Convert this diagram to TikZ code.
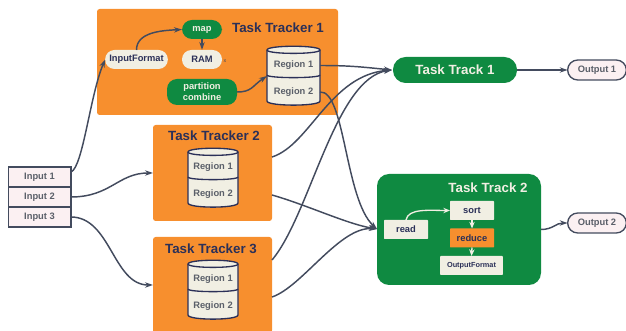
\documentclass[tikz,border=0pt]{standalone}
\usepackage{fontspec}
\setmainfont{Liberation Sans}
\usepackage{tikz}
\usetikzlibrary{arrows.meta,positioning}
\definecolor{boxorange}{HTML}{F78F2E}
\definecolor{boxgreen}{HTML}{0F8A41}
\definecolor{boxcream}{HTML}{F1EFE3}
\definecolor{boxpink}{HTML}{FBF0F2}
\definecolor{linegray}{HTML}{434B5E}
\definecolor{textnavy}{HTML}{2B3058}
\definecolor{textgray}{HTML}{5A5F69}
\tikzset{
  base/.style={font=\bfseries\fontsize{7}{8.5}\selectfont,align=center,inner sep=0pt,outer sep=0pt},
  tracker/.style={fill=boxorange,rounded corners=2pt,inner sep=0pt,outer sep=0pt},
  title/.style={font=\bfseries\fontsize{10}{12}\selectfont,text=textnavy,inner sep=0pt},
  greenpill/.style={base,fill=boxgreen,text=boxcream,rounded corners=7.5pt},
  creampill/.style={base,fill=boxcream,text=textnavy,rounded corners=7pt},
  creambox/.style={base,fill=boxcream,text=textnavy,rounded corners=0.5pt},
  inputbox/.style={base,draw=linegray,line width=1pt,fill=boxpink,text=textgray,minimum width=47pt,minimum height=15pt},
  outputbox/.style={base,draw=linegray,line width=1pt,fill=boxpink,text=textgray,rounded corners=7.5pt,minimum width=44pt,minimum height=15pt},
  drum/.style={draw=textnavy,line width=1pt,fill=boxcream},
  region/.style={base,text=textgray,minimum height=10pt},
  link/.style={draw=linegray,line width=1.1pt,-{Stealth[length=6pt,width=4pt]}},
  whitelink/.style={draw=boxcream,line width=1pt,-{Stealth[length=5pt,width=4pt]}},
}
% one drum with two regions: name, centre x, top y, half width
\newcommand{\regiondrum}[4]{
  \begin{scope}[shift={(#2,#3)}]
    \draw[drum] (-#4,4) .. controls +(0,-5) and +(0,-5) .. (#4,4) -- (#4,55)
      .. controls +(0,5.5) and +(0,5.5) .. (-#4,55) -- cycle;
    \draw[drum,fill=none] (-#4,4) .. controls +(0,4.5) and +(0,4.5) .. (#4,4);
    \draw[drum,fill=none] (-#4,29) .. controls +(0,3.5) and +(0,3.5) .. (#4,29);
    \node[base,minimum width=#4*1.5pt,minimum height=44pt] (#1) at (0,30) {};
    \node[region,minimum width=#4*1.5pt] (#1a) at (0,19.5) {Region 1};
    \node[region,minimum width=#4*1.5pt] (#1b) at (0,46) {Region 2};
  \end{scope}
}
\begin{document}
\begin{tikzpicture}[x=0.75pt,y=-0.75pt]
  \useasboundingbox (0,0) rectangle (626,331);

  % inputs
  \node[inputbox] (input1) at (39.5,177) {Input 1};
  \node[inputbox,below=0pt of input1] (input2) {Input 2};
  \node[inputbox,below=0pt of input2] (input3) {Input 3};

  % task tracker 1
  \node[tracker,minimum width=180.75pt,minimum height=79.5pt] (tracker1) at (217.5,62) {};
  \node[title] (title1) at (278,28) {Task Tracker 1};
  \node[greenpill,minimum width=30pt,minimum height=14.25pt] (map) at (202,29.5) {map};
  \node[creampill,minimum width=30pt,minimum height=14.25pt] (ram) at (202,59.5) {RAM};
  \node[creampill,minimum width=47pt,minimum height=14.25pt] (inputformat) at (136.5,59.5) {InputFormat};
  \node[greenpill,minimum width=52.5pt,minimum height=19.5pt] (partition) at (202,92) {partition\\combine};
  \node[base,font=\fontsize{4}{4}\selectfont,text=linegray] (ramx) at (225,61.5) {x};
  \regiondrum{drum1}{293.5}{46}{26.5}

  % task tracker 2
  \node[tracker,minimum width=89.25pt,minimum height=72pt] (tracker2) at (212.5,173) {};
  \node[title] (title2) at (214,136) {Task Tracker 2};
  \regiondrum{drum2}{213}{148}{25}

  % task tracker 3
  \node[tracker,minimum width=89.25pt,minimum height=72pt] (tracker3) at (212.5,285) {};
  \node[title] (title3) at (211,249) {Task Tracker 3};
  \regiondrum{drum3}{213}{260}{25}

  % task track 1
  \node[greenpill,font=\bfseries\fontsize{10}{12}\selectfont,minimum width=93pt,minimum height=19.5pt,rounded corners=9.5pt] (track1) at (455,70) {Task Track 1};
  \node[outputbox] (output1) at (597,70) {Output 1};

  % task track 2
  \node[fill=boxgreen,rounded corners=9pt,inner sep=0pt,outer sep=0pt,minimum width=123pt,minimum height=83.25pt] (track2) at (459,229.5) {};
  \node[title,text=boxcream] (title4) at (488,188) {Task Track 2};
  \node[creambox,minimum width=33pt,minimum height=14.25pt] (read) at (406,229.5) {read};
  \node[creambox,minimum width=33pt,minimum height=14.25pt] (sort) at (472,210.5) {sort};
  \node[creambox,fill=boxorange,minimum width=33pt,minimum height=14.25pt] (reduce) at (472,238) {reduce};
  \node[creambox,font=\bfseries\fontsize{5.5}{7}\selectfont,minimum width=47pt,minimum height=14.25pt] (outputformat) at (471.5,265.5) {OutputFormat};
  \node[outputbox] (output2) at (597,223) {Output 2};

  % free ends on the box edges
  \coordinate (out2a) at (272,157);
  \coordinate (out2b) at (272,195);
  \coordinate (out3a) at (272,260);
  \coordinate (out3b) at (272,297);
  \coordinate (in1) at (71,172);
  \coordinate (into1) at (392,70);
  \coordinate (into2) at (377,229);

  % links inside the boxes
  \draw[link] (inputformat.north) .. controls +(0,-18) and +(-20,1) .. (map.west);
  \draw[link] (map.south) -- (ram.north);
  \draw[link] (partition.east) .. controls +(15,0) and +(-15,10) .. (drum1.west);
  \draw[whitelink] (read.north) .. controls +(2,-12) and +(-20,0) .. (sort.west);
  \draw[whitelink] (sort.south) -- (reduce.north);
  \draw[whitelink] (reduce.south) -- (outputformat.north);

  % links between the boxes
  \draw[link] (in1) .. controls +(12,-5) and +(-15,35) .. (inputformat.west);
  \draw[link] (input2.east) .. controls +(40,0) and +(-35,0) .. (tracker2.west);
  \draw[link] (input3.east) .. controls +(40,0) and +(-40,0) .. (tracker3.west);
  \draw[link] (drum1a.east) .. controls +(30,0) and +(-30,-3) .. (into1);
  \draw[link] (drum1b.east) .. controls +(25,-2) and +(-32,-29) .. (into2);
  \draw[link] (out2a) .. controls +(38,-12) and +(-62,5) .. (into1);
  \draw[link] (out3a) .. controls +(38,-45) and +(-57,8) .. (into1);
  \draw[link] (out2b) .. controls +(35,10) and +(-30,-5) .. (into2);
  \draw[link] (out3b) .. controls +(30,-10) and +(-37,-3) .. (into2);
  \draw[link] (track1.east) -- (output1.west);
  \draw[link] (track2.east) .. controls +(12,0) and +(-12,0) .. (output2.west);
\end{tikzpicture}
\end{document}
